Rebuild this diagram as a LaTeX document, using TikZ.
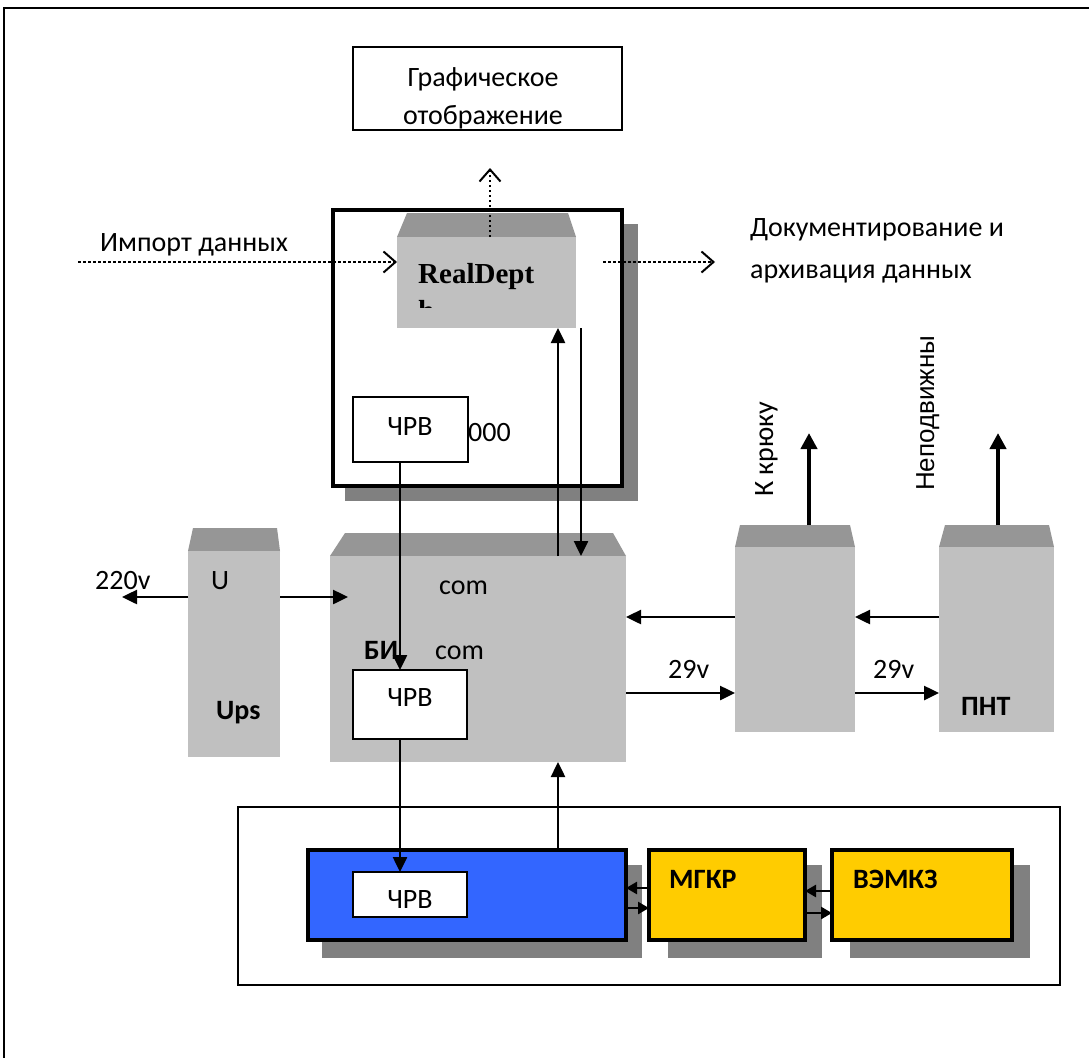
\documentclass[tikz,border=0pt]{standalone}
\usepackage{fontspec}
\setmainfont{Carlito}
\newfontfamily\rdfont{Liberation Serif}
\newfontfamily\arfont{Liberation Sans}
\usetikzlibrary{arrows.meta}
\definecolor{bodyg}{RGB}{192,192,192}
\definecolor{topg}{RGB}{150,150,150}
\definecolor{shadg}{RGB}{128,128,128}
\definecolor{blueb}{RGB}{51,102,255}
\definecolor{yellb}{RGB}{255,204,0}
\newcommand\myfs{\fontsize{28}{34}\selectfont}
\begin{document}
\begin{tikzpicture}[x=1pt,y=-1pt,
  txt/.style={font=\myfs, inner sep=0pt},
  btxt/.style={font=\myfs\bfseries, inner sep=0pt},
  bx/.style={draw, line width=1.8pt, fill=white, inner sep=0pt, outer sep=0pt, anchor=north west},
  gbody/.style={fill=bodyg, inner sep=0pt, outer sep=0pt, anchor=north west},
  arr/.style={line width=2.5pt, -{Triangle[length=15pt,width=14pt]}},
  arrs/.style={line width=2.5pt, -{Triangle[length=11pt,width=12pt]}},
  thickarr/.style={line width=4.5pt, -{Triangle[length=16pt,width=16pt]}},
  darr/.style={line width=2.5pt, dash pattern=on 2.5pt off 2.5pt, -{Straight Barb[length=12pt,width=21pt,line width=2pt]}},
]
\useasboundingbox (0,0) rectangle (1089,1057);
\clip (0,0) rectangle (1089,1057);
\fill[white] (0,0) rectangle (1089,1057);
\draw[line width=1.8pt] (4,8) rectangle (1200,1200);

% graphic display box
\node[bx, minimum width=269pt, minimum height=83pt] (graf) at (353,47) {};
\node[txt, anchor=base] at (483,86) {Графическое};
\node[txt, anchor=base] at (483,124) {отображение};

% big PC frame
\fill[shadg] (345,224) rectangle (638,501);
\node[bx, line width=4pt, minimum width=289pt, minimum height=276pt] (pc) at (333,210) {};

% RealDepth block
\fill[topg] (397,237) -- (407,213) -- (568,213) -- (576,237) -- cycle;
\node[gbody, minimum width=179pt, minimum height=91pt] (rd) at (397,237) {};
\node[anchor=base west, inner sep=0pt, font=\rdfont\bfseries\fontsize{29}{34}\selectfont] at (418,283) {RealDept};
\begin{scope}
\clip (397,237) rectangle (576,307);
\node[anchor=base west, inner sep=0pt, font=\rdfont\bfseries\fontsize{29}{34}\selectfont] at (418,320) {h};
\end{scope}

% ChRV 1
\node[txt, anchor=base west] at (468,441) {000};
\node[bx, minimum width=115pt, minimum height=65pt] (c1) at (353,397) {};
\node[txt, anchor=base] at (410,435) {ЧРВ};

% dotted arrows
\coordinate (gtip) at (490,168);
\draw[darr] (rd.north -| gtip) -- (gtip);
\coordinate (imp) at (78,262);
\draw[darr] (imp) -- (rd.west |- imp);
\coordinate (docs) at (603,262);
\coordinate (doct) at (715,262);
\draw[darr] (docs) -- (doct);
\node[txt, anchor=base west] at (100,251) {Импорт данных};
\node[txt, anchor=base west] at (750,236) {Документирование и};
\node[txt, anchor=base west] at (750,278) {архивация данных};

% Ups
\fill[topg] (188,551) -- (193,528) -- (277,528) -- (280,551) -- cycle;
\node[gbody, minimum width=92pt, minimum height=206pt] (ups) at (188,551) {};
\node[txt, anchor=base west] at (211,589) {U};
\node[btxt, anchor=base west] at (216,719) {Ups};
\node[txt, anchor=base west] at (95,589) {220v};

% BI
\fill[topg] (330,556) -- (345,533) -- (613,533) -- (626,556) -- cycle;
\node[gbody, minimum width=296pt, minimum height=206pt] (bi) at (330,556) {};
\node[txt, anchor=base west] at (439,594) {com};
\node[btxt, anchor=base west] at (364,659) {БИ};
\node[txt, anchor=base west] at (435,659) {com};
\node[bx, minimum width=114pt, minimum height=69pt] (c2) at (353,670) {};
\node[txt, anchor=base] at (410,706) {ЧРВ};

% K kryuku block
\fill[topg] (735,547) -- (740,525) -- (850,525) -- (855,547) -- cycle;
\node[gbody, minimum width=120pt, minimum height=185pt] (kr) at (735,547) {};

% PNT block
\fill[topg] (939,547) -- (945,525) -- (1049,525) -- (1054,547) -- cycle;
\node[gbody, minimum width=115pt, minimum height=185pt] (pnt) at (939,547) {};
\node[btxt, anchor=base west] at (961,715) {ПНТ};

\node[txt, anchor=base west] at (668,678) {29v};
\node[txt, anchor=base west] at (873,678) {29v};

\node[txt, rotate=90, anchor=base west] at (773,497) {К крюку};
\node[inner sep=0pt, font=\arfont\fontsize{26}{30}\selectfont, rotate=90, anchor=base west] at (934,491) {Неподвижны};

% bottom frame
\draw[line width=1.8pt] (238,807) rectangle (1060,985);
\fill[shadg] (322,865) rectangle (642,958);
\node[bx, fill=blueb, line width=3.5pt, minimum width=318pt, minimum height=90pt] (ipt) at (308,850) {};
\node[bx, minimum width=114pt, minimum height=45pt] (c3) at (353,872) {};
\node[txt, anchor=base] at (410,908) {ЧРВ};
\fill[shadg] (668,865) rectangle (822,958);
\node[bx, fill=yellb, line width=3.5pt, minimum width=156pt, minimum height=90pt] (mg) at (649,850) {};
\node[btxt, anchor=base west] at (669,888) {МГКР};
\fill[shadg] (850,865) rectangle (1030,958);
\node[bx, fill=yellb, line width=3.5pt, minimum width=180pt, minimum height=90pt] (ve) at (832,850) {};
\node[btxt, anchor=base west] at (853,888) {ВЭМКЗ};

% connectors
\coordinate (vx) at (400,0);
\coordinate (ux) at (558,0);
\coordinate (dx) at (581,0);
\draw[arr] (c1.south -| vx) -- (c2.north -| vx);
\draw[arr] (c2.south -| vx) -- (c3.north -| vx);
\draw[arr] (bi.north -| ux) -- (rd.south -| ux);
\draw[arr] (rd.south -| dx) -- (bi.north -| dx);
\draw[arr] (ipt.north -| ux) -- (bi.south -| ux);

\coordinate (ya) at (0,597);
\coordinate (left220) at (122,597);
\coordinate (biin) at (348,597);
\draw[arr] (ups.west |- ya) -- (left220);
\draw[arr] (ups.east |- ya) -- (biin);

\coordinate (yb) at (0,617);
\coordinate (yc) at (0,693);
\draw[arr] (kr.west |- yb) -- (bi.east |- yb);
\draw[arr] (pnt.west |- yb) -- (kr.east |- yb);
\draw[arr] (bi.east |- yc) -- (kr.west |- yc);
\draw[arr] (kr.east |- yc) -- (pnt.west |- yc);

\coordinate (kb) at (809,525);
\coordinate (kt) at (809,433);
\coordinate (pb) at (998,525);
\coordinate (pt) at (998,433);
\draw[thickarr] (kb) -- (kt);
\draw[thickarr] (pb) -- (pt);

\coordinate (y1) at (0,888);
\coordinate (y2) at (0,908);
\coordinate (y3) at (0,891);
\coordinate (y4) at (0,913);
\draw[arrs] (mg.west |- y1) -- (ipt.east |- y1);
\draw[arrs] (ipt.east |- y2) -- (mg.west |- y2);
\draw[arrs] (ve.west |- y3) -- (mg.east |- y3);
\draw[arrs] (mg.east |- y4) -- (ve.west |- y4);
\end{tikzpicture}
\end{document}
